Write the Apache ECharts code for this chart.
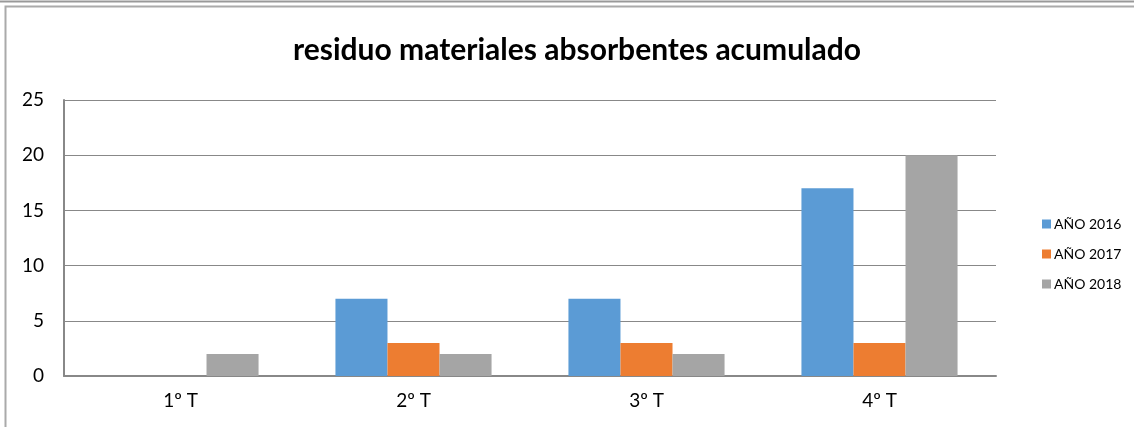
<!DOCTYPE html>
<html><head><meta charset="utf-8">
<script src="https://cdn.jsdelivr.net/npm/echarts@6/dist/echarts.min.js"></script>
<style>html,body{margin:0;padding:0;background:#fff;overflow:hidden}#c{width:1134px;height:427px}</style>
</head><body><div id="c"></div>
<script>
const categories = ['1º T', '2º T', '3º T', '4º T'];
const seriesNames = ['AÑO 2016', 'AÑO 2017', 'AÑO 2018'];
const values2016 = [0, 7, 7, 17];
const values2017 = [0, 3, 3, 3];
const values2018 = [2, 2, 2, 20];
const yTicks = [0, 5, 10, 15, 20, 25];
const colors = ['#5B9BD5', '#ED7D31', '#A5A5A5'];
const font = 'Lato, "Open Sans", sans-serif';

const chart = echarts.init(document.getElementById('c'), null, {renderer: 'canvas'});
const data = [values2016, values2017, values2018];
chart.setOption({
  animation: false,
  color: colors,
  title: {
    text: 'residuo materiales absorbentes acumulado',
    left: 572, top: 30, textAlign: 'center',
    textStyle: {fontFamily: font, fontSize: 30, fontWeight: 'bold', color: '#000'}
  },
  graphic: [
    {type: 'line', shape: {x1: 0, y1: 1.5, x2: 1134, y2: 1.5}, style: {stroke: '#999', lineWidth: 2}},
    {type: 'polyline', shape: {points: [[5.5, 430], [5.5, 6.5], [1134, 6.5]]}, style: {fill: null, stroke: '#aaa', lineWidth: 2}}
  ],
  legend: {
    orient: 'vertical', left: 1037, top: 212, itemGap: 16,
    itemWidth: 9, itemHeight: 9, icon: 'rect',
    textStyle: {fontFamily: font, fontSize: 14, color: '#000', padding: [0, 0, 0, -2]},
    data: seriesNames
  },
  grid: {left: 64, right: 138, top: 100, bottom: 51, containLabel: false},
  xAxis: {
    type: 'category', data: categories,
    axisLine: {lineStyle: {color: '#888', width: 2}},
    axisTick: {show: false},
    axisLabel: {fontFamily: font, fontSize: 19, color: '#000', margin: 15}
  },
  yAxis: {
    type: 'value', min: yTicks[0], max: yTicks[yTicks.length - 1], interval: 5,
    axisLine: {show: true, lineStyle: {color: '#888', width: 2}},
    axisTick: {show: false},
    splitLine: {lineStyle: {color: '#888', width: 1}},
    axisLabel: {fontFamily: font, fontSize: 19, color: '#000', margin: 20}
  },
  series: seriesNames.map((n, i) => ({
    name: n, type: 'bar', data: data[i],
    barGap: '0%', barCategoryGap: '33%'
  }))
});
</script></body></html>
